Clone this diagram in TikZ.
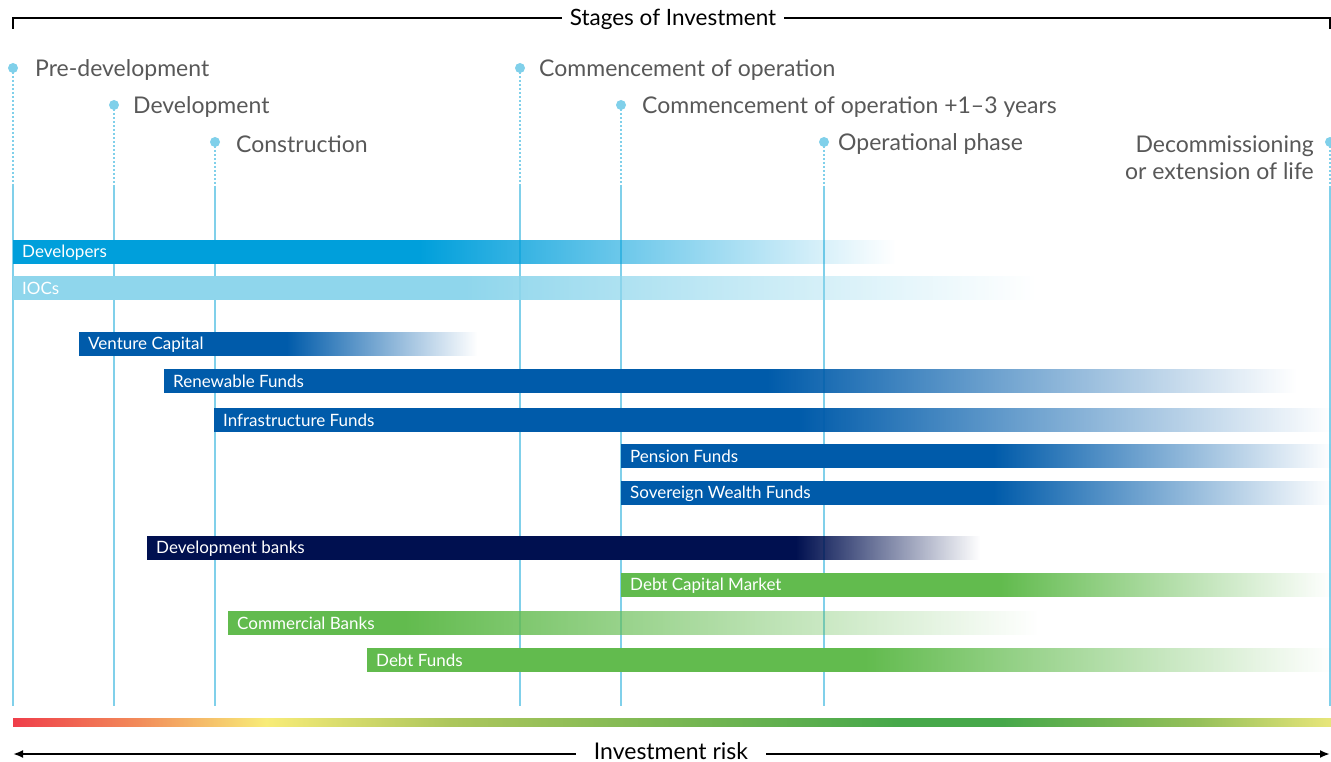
\documentclass[tikz,border=0pt]{standalone}
\usepackage{fontspec}
\setmainfont{Lato}
\usetikzlibrary{arrows.meta,fadings}

\definecolor{stageblue}{RGB}{128,208,234}
\definecolor{stagegray}{RGB}{88,88,88}
\definecolor{devcyan}{RGB}{0,159,219}
\definecolor{ioclight}{RGB}{143,214,236}
\definecolor{fundblue}{RGB}{0,91,170}
\definecolor{banknavy}{RGB}{0,16,80}
\definecolor{debtgreen}{RGB}{98,187,78}
\definecolor{riskred}{RGB}{239,62,74}
\definecolor{riskorange}{RGB}{242,140,90}
\definecolor{riskyellow}{RGB}{248,236,120}
\definecolor{riskolive}{RGB}{172,198,92}
\definecolor{riskgreen}{RGB}{70,168,74}
\definecolor{risklime}{RGB}{150,192,90}
\definecolor{riskend}{RGB}{232,230,122}

\tikzfading[name=fade out, left color=transparent!0, right color=transparent!100]
\pgfdeclarehorizontalshading{riskscale}{100bp}{color(0bp)=(riskred); color(25bp)=(riskred);
	color(29.8bp)=(riskorange); color(34.6bp)=(riskyellow); color(41.6bp)=(riskolive);
	color(58.6bp)=(riskgreen); color(62.5bp)=(riskgreen); color(70bp)=(risklime);
	color(75bp)=(riskend); color(100bp)=(riskend)}

\begin{document}
\begin{tikzpicture}[x=1pt, y=-1pt,
	stage/.style={circle, fill=stageblue, inner sep=0pt, minimum size=10pt},
	stagetext/.style={anchor=west, inner sep=0pt, yshift=-2pt, text=stagegray, font=\fontsize{23}{27}\selectfont},
	guide/.style={stageblue, line width=2pt},
	guidedots/.style={stageblue, line width=1.2pt, dash pattern=on 2pt off 2pt},
	barlabel/.style={anchor=west, inner sep=0pt, text=white, font=\fontsize{17}{20}\selectfont},
	heading/.style={inner ysep=0pt, text=black, font=\fontsize{23}{26}\selectfont},
	rule/.style={line width=2.2pt, black},
	risktip/.style={-{Latex[length=10pt, width=8pt]}}
	]
	\useasboundingbox (0,0) rectangle (1331,762);
	
	% Heading bracket
	\node[heading, inner xsep=8pt, font=\fontsize{22.5}{26}\selectfont] (stages) at (673,19) {Stages of Investment};
	\coordinate (topleft) at (13,29);
	\coordinate (topright) at (1330,29);
	\draw[rule] (stages.west |- 0,18) -| (topleft);
	\draw[rule] (stages.east |- 0,18) -| (topright);
	
	% Stage markers and guide lines
	\foreach \name/\x/\y in {pre/13/68, dev/114/105, con/215/142, op/520/68,
		opplus/621/105, ops/824/142, dec/1330/142} {
		\coordinate (\name-top) at (\x,186);
		\coordinate (\name-bot) at (\x,706);
		\draw[guidedots] (\x,\y) -- (\name-top);
		\draw[guide] (\name-top) -- (\name-bot);
		\node[stage] (\name) at (\x,\y) {};
	}
	
	% Stage labels
	\node[stagetext] (pre-text) at ([xshift=22pt]pre.center) {Pre-development};
	\node[stagetext] (dev-text) at ([xshift=19pt]dev.center) {Development};
	\node[stagetext] (con-text) at ([xshift=21pt]con.center) {Construction};
	\node[stagetext] (op-text) at ([xshift=19pt]op.center) {Commencement of operation};
	\node[stagetext] (opplus-text) at ([xshift=21pt]opplus.center) {Commencement of operation +1–3 years};
	\node[stagetext] (ops-text) at ([xshift=14pt]ops.center) {Operational phase};
	\node[stagetext, anchor=east, align=right] (dec-text) at (1314,155.5)
	{Decommissioning\\or extension of life};
	
	% Investor bars: solid part, then fading part
	\foreach \name/\xa/\xb/\xc/\ya/\col/\txt in {
		developers/13/420/895/240/devcyan/Developers,
		iocs/13/465/1036/276/ioclight/IOCs,
		venture/79/287/477/332/fundblue/Venture Capital,
		renewable/164/768/1296/369/fundblue/Renewable Funds,
		infra/214/799/1331/408/fundblue/Infrastructure Funds,
		pension/621/994/1331/444/fundblue/Pension Funds,
		sovereign/621/994/1331/481/fundblue/Sovereign Wealth Funds,
		devbanks/147/796/980/536/banknavy/Development banks,
		debtmarket/621/1001/1331/573/debtgreen/Debt Capital Market,
		commercial/228/406/1038/611/debtgreen/Commercial Banks,
		debtfunds/367/866/1331/648/debtgreen/Debt Funds} {
		\fill[\col] (\xa,\ya) rectangle (\xb+0.5,\ya+24);
		\fill[\col, path fading=fade out] (\xb,\ya) rectangle (\xc,\ya+24);
		\node[barlabel] (\name) at (\xa+9,\ya+12.5) {\txt};
	}
	
	% Risk scale
	\shade[shading=riskscale] (13,718) rectangle (1331,726);
	\node[heading, inner xsep=18pt] (risk) at (671,751) {Investment risk};
	\coordinate (riskleft) at (13,754);
	\coordinate (riskright) at (1330,754);
	\draw[rule, risktip] (risk.west |- riskleft) -- (riskleft);
	\draw[rule, risktip] (risk.east |- riskright) -- (riskright);
\end{tikzpicture}
\end{document}
